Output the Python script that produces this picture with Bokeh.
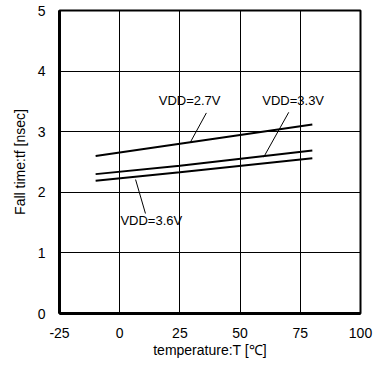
from bokeh.plotting import figure
from bokeh.models import Range1d, FixedTicker, ColumnDataSource
from bokeh.embed import file_html
from bokeh.resources import INLINE

temperature = [-10, 25, 80]
vdd27 = [2.60, 2.80, 3.12]
vdd33 = [2.30, 2.44, 2.69]
vdd36 = [2.19, 2.33, 2.56]

x_ticks = [-25, 0, 25, 50, 75, 100]
x_tick_labels = ["-25", "0", "25", "50", "75", "100"]
y_ticks = [0, 1, 2, 3, 4, 5]

label_text = ["VDD=2.7V", "VDD=3.3V", "VDD=3.6V"]
label_x = [16.2, 59.2, 0.3]
label_y = [3.51, 3.51, 1.53]
leader_x0 = [29.4, 59.8, 6.6]
leader_y0 = [2.83, 2.58, 2.21]
leader_x1 = [36.0, 70.2, 10.7]
leader_y1 = [3.31, 3.32, 1.65]

FONT = "Liberation Sans"

p = figure(width=387, height=367, output_backend="svg", toolbar_location=None,
           x_range=Range1d(-25, 100), y_range=Range1d(0, 5),
           min_border_left=59, min_border_right=27, min_border_top=10, min_border_bottom=54)
p.background_fill_color = "white"
p.border_fill_color = "white"
p.outline_line_color = "black"
p.outline_line_width = 2

for ax, ticks in ((p.xaxis[0], x_ticks), (p.yaxis[0], y_ticks)):
    ax.ticker = FixedTicker(ticks=ticks)
    ax.major_tick_out = 0
    ax.major_tick_in = 0
    ax.minor_tick_out = 0
    ax.minor_tick_in = 0
    ax.axis_line_width = 3
    ax.axis_line_color = "black"
    ax.major_label_text_font = FONT
    ax.major_label_text_font_size = "14px"
    ax.major_label_text_color = "black"
    ax.axis_label_text_font = FONT
    ax.axis_label_text_font_size = "14px"
    ax.axis_label_text_font_style = "normal"
    ax.axis_label_text_color = "black"

p.xaxis.major_label_overrides = {t: s for t, s in zip(x_ticks, x_tick_labels)}
p.xaxis.axis_label = "temperature:T [\u2103]"
p.yaxis.axis_label = "Fall time:tf [nsec]"
p.xaxis.major_label_standoff = 14
p.xaxis.axis_label_standoff = 1
p.yaxis.major_label_standoff = 14
p.yaxis.axis_label_standoff = 7

p.xgrid.ticker = FixedTicker(ticks=x_ticks)
p.ygrid.ticker = FixedTicker(ticks=y_ticks)
for g in (p.xgrid[0], p.ygrid[0]):
    g.grid_line_color = "black"
    g.grid_line_width = 1
    g.grid_line_alpha = 1.0

for ys in (vdd27, vdd33, vdd36):
    p.line(temperature, ys, line_color="black", line_width=2)

p.segment(x0=leader_x0, y0=leader_y0, x1=leader_x1, y1=leader_y1,
          line_color="black", line_width=1)

src = ColumnDataSource(dict(x=label_x, y=label_y, t=label_text))
p.text(x="x", y="y", text="t", source=src, text_font={"value": FONT},
       text_font_size={"value": "13px"}, text_baseline="middle", text_align="left",
       text_color="black")

open("out.html", "w").write(file_html(p, INLINE))
